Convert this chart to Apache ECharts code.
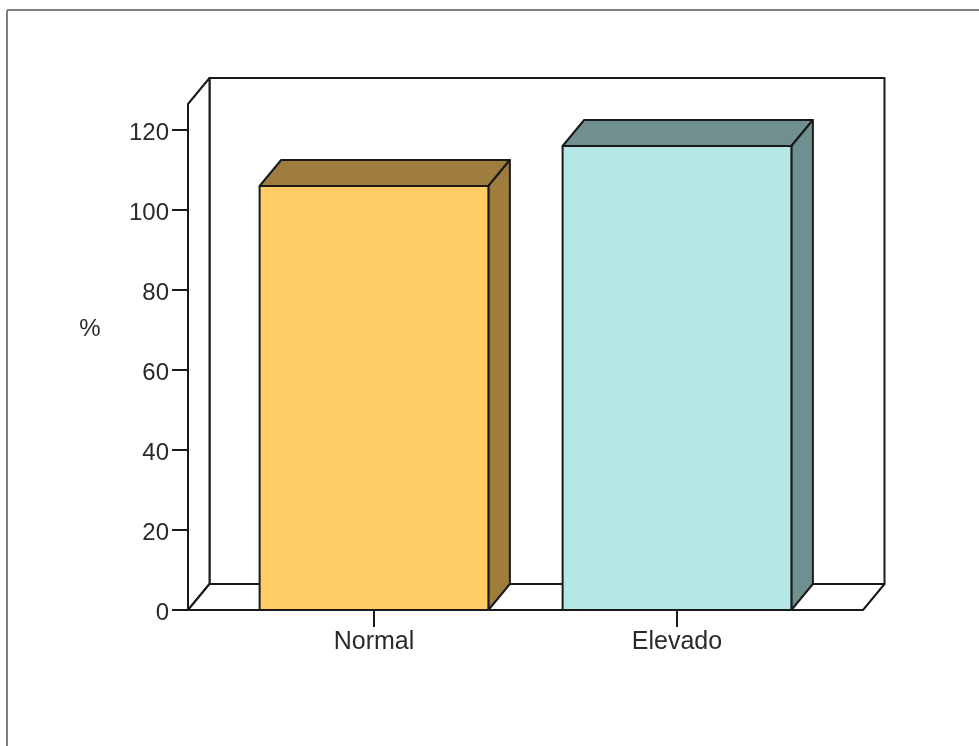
<!DOCTYPE html>
<html>
<head>
<meta charset="utf-8">
<style>html,body{margin:0;padding:0;background:#fff}#chart{width:979px;height:746px}</style>
<script src="https://cdn.jsdelivr.net/npm/echarts@6/dist/echarts.min.js"></script>
</head>
<body>
<div id="chart"></div>
<script>
// Chart values
const categories = ['Normal', 'Elevado'];
const percentages = [106, 116];
const frontColors = ['#FFCC66', '#B5E6E6'];
const shadeColors = ['#9E7D3E', '#70908F'];
const yTicks = { min: 0, max: 120, interval: 20 };
const wallTopValue = 126.5;

// Oblique projection of the box
const depthX = 21.5;
const depthY = 26;
const cageOverhang = 34.5;
const barShare = 0.755;
const ink = '#1a1a1a';
const textInk = '#2a2a2a';
const lineStyle = { stroke: ink, lineWidth: 2, lineJoin: 'round' };
const fontFamily = '"Liberation Sans", Arial, sans-serif';

function poly(points, fill) {
  return { type: 'polygon', shape: { points }, style: Object.assign({ fill }, lineStyle) };
}

// Back wall, side wall and floor of the box
function renderCage(params, api) {
  const g = params.coordSys;
  const left = g.x - cageOverhang;
  const right = g.x + g.width + cageOverhang;
  const floor = g.y + g.height;
  const top = api.coord([0, wallTopValue])[1];
  return {
    type: 'group',
    children: [
      poly([[left + depthX, top - depthY], [right + depthX, top - depthY],
            [right + depthX, floor - depthY], [left + depthX, floor - depthY]], '#fff'),
      poly([[left, floor], [left, top], [left + depthX, top - depthY], [left + depthX, floor - depthY]], '#fff'),
      poly([[left, floor], [right, floor], [right + depthX, floor - depthY], [left + depthX, floor - depthY]], '#fff')
    ]
  };
}

// A bar drawn as a front face, a top face and a side face
function renderBar(params, api) {
  const i = api.value(0);
  const topPt = api.coord([i, api.value(1)]);
  const basePt = api.coord([i, 0]);
  const half = api.size([1, 0])[0] * barShare / 2;
  const l = topPt[0] - half, r = topPt[0] + half, t = topPt[1], b = basePt[1];
  return {
    type: 'group',
    children: [
      poly([[l, t], [r, t], [r + depthX, t - depthY], [l + depthX, t - depthY]], shadeColors[i]),
      poly([[r, t], [r + depthX, t - depthY], [r + depthX, b - depthY], [r, b]], shadeColors[i]),
      poly([[l, t], [r, t], [r, b], [l, b]], frontColors[i])
    ]
  };
}

const chart = echarts.init(document.getElementById('chart'), null, { renderer: 'canvas' });
chart.setOption({
  animation: false,
  backgroundColor: '#fff',
  grid: { left: 222.5, width: 606, top: 130, height: 480 },
  xAxis: {
    type: 'category',
    data: categories,
    axisLine: { show: false },
    axisTick: { show: true, alignWithLabel: true, length: 17, lineStyle: { color: ink, width: 2 } },
    axisLabel: { color: textInk, fontSize: 25, fontFamily, margin: 20 }
  },
  yAxis: {
    type: 'value',
    min: yTicks.min,
    max: yTicks.max,
    interval: yTicks.interval,
    offset: cageOverhang,
    splitLine: { show: false },
    axisLine: { show: false },
    axisTick: { show: true, length: 16, lineStyle: { color: ink, width: 2 } },
    axisLabel: {
      margin: 19,
      formatter: '{tick|{value}}',
      rich: { tick: { color: textInk, fontSize: 24, fontFamily, padding: [6, 0, 0, 0] } }
    }
  },
  series: [
    { type: 'custom', renderItem: renderCage, data: [[0, 0]], clip: false, silent: true, z: 1 },
    {
      type: 'custom',
      renderItem: renderBar,
      data: percentages.map((v, i) => [i, v]),
      encode: { x: 0, y: 1 },
      clip: false,
      z: 2
    }
  ],
  graphic: [
    { type: 'line', shape: { x1: 7, y1: 10, x2: 979, y2: 10 }, style: { stroke: '#808080', lineWidth: 2 } },
    { type: 'line', shape: { x1: 7, y1: 10, x2: 7, y2: 746 }, style: { stroke: '#808080', lineWidth: 2 } },
    { type: 'text', x: 90, y: 329, style: { text: '%', fill: textInk, font: '24px ' + fontFamily, textAlign: 'center', textVerticalAlign: 'middle' } }
  ]
});
</script>
</body>
</html>
